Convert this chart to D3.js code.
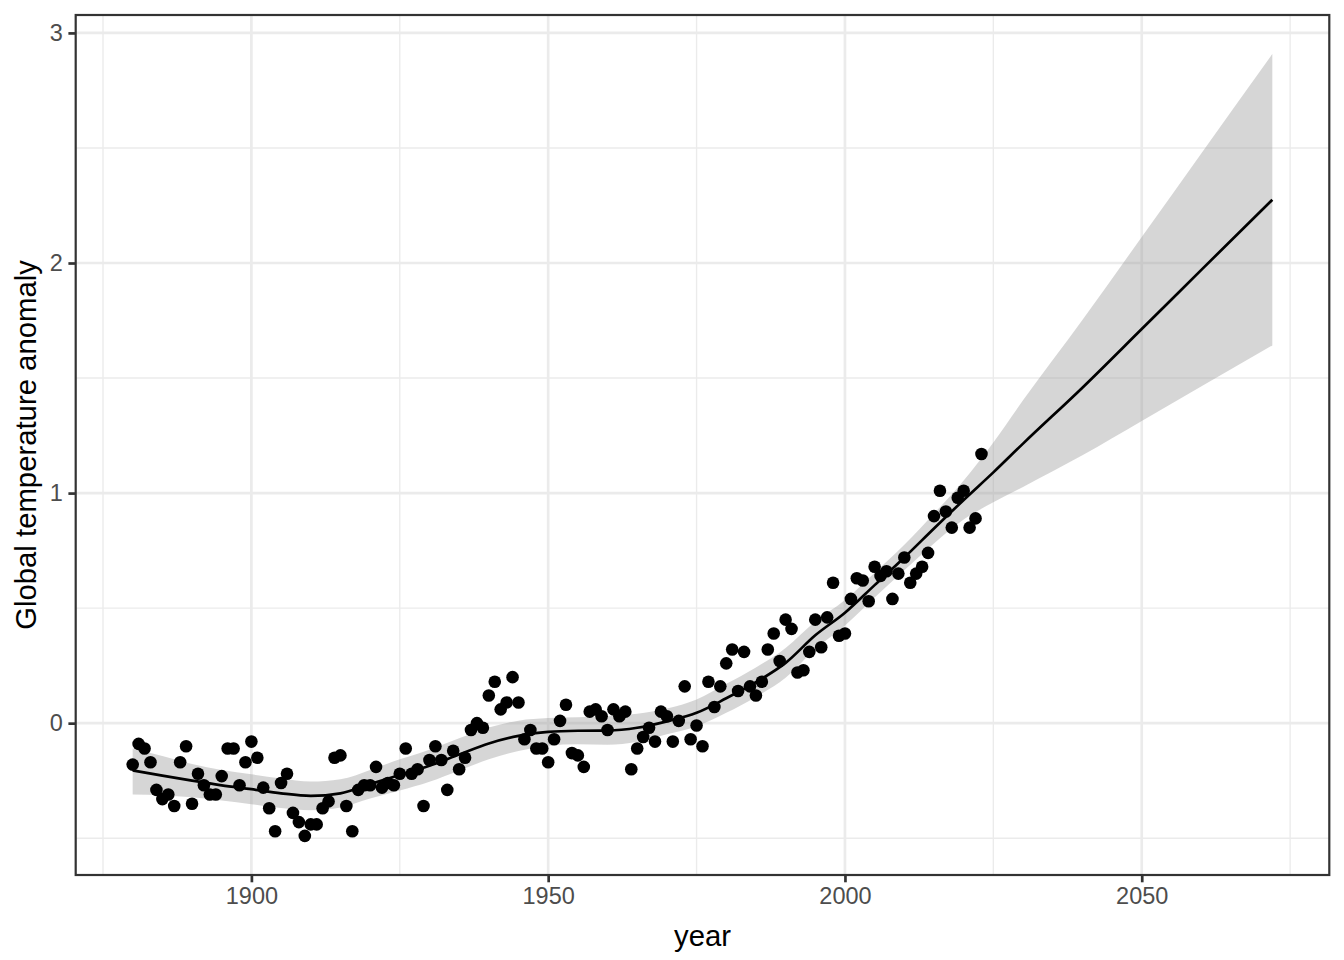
<!DOCTYPE html>
<html><head><meta charset="utf-8">
<script src="https://cdn.jsdelivr.net/npm/d3@7"></script>
<style>body{margin:0;background:#fff}</style>
</head><body>
<svg id="chart" width="1344" height="960"></svg>
<script>
// ---- data ----
const years = d3.range(1880, 2024);
const anomaly = [
-0.18,-0.09,-0.11,-0.17,-0.29,-0.33,-0.31,-0.36,-0.17,-0.10,
-0.35,-0.22,-0.27,-0.31,-0.31,-0.23,-0.11,-0.11,-0.27,-0.17,
-0.08,-0.15,-0.28,-0.37,-0.47,-0.26,-0.22,-0.39,-0.43,-0.49,
-0.44,-0.44,-0.37,-0.34,-0.15,-0.14,-0.36,-0.47,-0.29,-0.27,
-0.27,-0.19,-0.28,-0.26,-0.27,-0.22,-0.11,-0.22,-0.20,-0.36,
-0.16,-0.10,-0.16,-0.29,-0.12,-0.20,-0.15,-0.03,0.00,-0.02,
0.12,0.18,0.06,0.09,0.20,0.09,-0.07,-0.03,-0.11,-0.11,
-0.17,-0.07,0.01,0.08,-0.13,-0.14,-0.19,0.05,0.06,0.03,
-0.03,0.06,0.03,0.05,-0.20,-0.11,-0.06,-0.02,-0.08,0.05,
0.03,-0.08,0.01,0.16,-0.07,-0.01,-0.10,0.18,0.07,0.16,
0.26,0.32,0.14,0.31,0.16,0.12,0.18,0.32,0.39,0.27,
0.45,0.41,0.22,0.23,0.31,0.45,0.33,0.46,0.61,0.38,
0.39,0.54,0.63,0.62,0.53,0.68,0.64,0.66,0.54,0.65,
0.72,0.61,0.65,0.68,0.74,0.90,1.01,0.92,0.85,0.98,
1.01,0.85,0.89,1.17];

// smooth fit and confidence band
const smoothYear = [1880,1885,1890,1895,1900,1905,1910,1915,1920,1925,1930,1935,1940,1945,1950,1955,1960,1965,1970,1975,1980,1985,1990,1995,2000,2005,2010,2015,2020,2025,2030,2040,2050,2060,2072];
const smoothFit = [-0.205,-0.228,-0.250,-0.270,-0.287,-0.305,-0.316,-0.305,-0.265,-0.225,-0.185,-0.136,-0.088,-0.055,-0.038,-0.033,-0.032,-0.020,0.008,0.045,0.108,0.178,0.262,0.382,0.480,0.600,0.720,0.846,0.970,1.090,1.215,1.458,1.713,1.969,2.275];
const smoothLower = [-0.310,-0.313,-0.322,-0.336,-0.352,-0.369,-0.378,-0.366,-0.327,-0.293,-0.255,-0.206,-0.157,-0.121,-0.098,-0.092,-0.094,-0.081,-0.048,-0.013,0.045,0.114,0.197,0.322,0.425,0.546,0.665,0.781,0.885,0.960,1.027,1.164,1.313,1.463,1.642];
const smoothUpper = [-0.110,-0.143,-0.178,-0.204,-0.222,-0.241,-0.254,-0.244,-0.203,-0.157,-0.115,-0.066,-0.019,0.011,0.022,0.026,0.030,0.041,0.064,0.103,0.171,0.242,0.327,0.442,0.535,0.654,0.775,0.911,1.055,1.220,1.403,1.752,2.113,2.475,2.908];

const xTicks = [1900, 1950, 2000, 2050];
const xMinor = [1875, 1925, 1975, 2025, 2075];
const yTicks = [0, 1, 2, 3];
const yMinor = [-0.5, 0.5, 1.5, 2.5];
const xTitle = "year";
const yTitle = "Global temperature anomaly";

// ---- layout ----
const P = {left: 75.7, right: 1329.3, top: 15, bottom: 875};
const svg = d3.select("#chart");
const font = "'Liberation Sans', Arial, Helvetica, sans-serif";

function expand(ext){ const d = ext[1]-ext[0]; return [ext[0]-0.05*d, ext[1]+0.05*d]; }
const xExt = d3.extent(years.concat(smoothYear));
const yExt = d3.extent(anomaly.concat(smoothLower, smoothUpper));
const x = d3.scaleLinear().domain(expand(xExt)).range([P.left, P.right]);
const y = d3.scaleLinear().domain(expand(yExt)).range([P.bottom, P.top]);

svg.append("rect").attr("width",1344).attr("height",960).attr("fill","#fff");

const grid = svg.append("g");
// minor grid
grid.selectAll(".xm").data(xMinor.filter(v=>x(v)>=P.left&&x(v)<=P.right)).join("line")
  .attr("x1",d=>x(d)).attr("x2",d=>x(d)).attr("y1",P.top).attr("y2",P.bottom)
  .attr("stroke","#EBEBEB").attr("stroke-width",1.35);
grid.selectAll(".ym").data(yMinor).join("line")
  .attr("y1",d=>y(d)).attr("y2",d=>y(d)).attr("x1",P.left).attr("x2",P.right)
  .attr("stroke","#EBEBEB").attr("stroke-width",1.35);
// major grid
grid.selectAll(".xM").data(xTicks).join("line")
  .attr("x1",d=>x(d)).attr("x2",d=>x(d)).attr("y1",P.top).attr("y2",P.bottom)
  .attr("stroke","#EBEBEB").attr("stroke-width",2.7);
grid.selectAll(".yM").data(yTicks).join("line")
  .attr("y1",d=>y(d)).attr("y2",d=>y(d)).attr("x1",P.left).attr("x2",P.right)
  .attr("stroke","#EBEBEB").attr("stroke-width",2.7);

// ribbon
const band = smoothYear.map((yr,i)=>({yr, lo:smoothLower[i], hi:smoothUpper[i], fit:smoothFit[i]}));
svg.append("path").datum(band)
  .attr("d", d3.area().x(d=>x(d.yr)).y0(d=>y(d.lo)).y1(d=>y(d.hi)).curve(d3.curveMonotoneX))
  .attr("fill","#999999").attr("fill-opacity",0.4);
svg.append("path").datum(band)
  .attr("d", d3.line().x(d=>x(d.yr)).y(d=>y(d.fit)).curve(d3.curveMonotoneX))
  .attr("fill","none").attr("stroke","#000").attr("stroke-width",2.7);

// points
svg.append("g").selectAll("circle").data(years.map((yr,i)=>({yr, v:anomaly[i]}))).join("circle")
  .attr("cx",d=>x(d.yr)).attr("cy",d=>y(d.v)).attr("r",6.3).attr("fill","#000");

// border
svg.append("rect").attr("x",P.left).attr("y",P.top).attr("width",P.right-P.left).attr("height",P.bottom-P.top)
  .attr("fill","none").attr("stroke","#333333").attr("stroke-width",2.2);

// axes
const xAxis = svg.append("g").attr("transform",`translate(0,${P.bottom})`)
  .call(d3.axisBottom(x).tickValues(xTicks).tickFormat(d3.format("d")).tickSize(7.3).tickPadding(5.5));
const yAxis = svg.append("g").attr("transform",`translate(${P.left},0)`)
  .call(d3.axisLeft(y).tickValues(yTicks).tickFormat(d3.format("d")).tickSize(7.3).tickPadding(5.5));
[xAxis,yAxis].forEach(a=>{
  a.select(".domain").remove();
  a.selectAll(".tick line").attr("stroke","#333333").attr("stroke-width",2.7);
  a.selectAll(".tick text").attr("fill","#4D4D4D").style("font-family",font).style("font-size","23.5px");
});
xAxis.selectAll(".tick text").attr("dy","0.71em");

svg.append("text").attr("x",(P.left+P.right)/2).attr("y",946).attr("text-anchor","middle")
  .style("font-family",font).style("font-size","29.3px").attr("fill","#000").text(xTitle);
svg.append("text").attr("transform",`translate(35.5,${(P.top+P.bottom)/2}) rotate(-90)`)
  .attr("text-anchor","middle").style("font-family",font).style("font-size","29.3px").attr("fill","#000").text(yTitle);
</script>
</body></html>
